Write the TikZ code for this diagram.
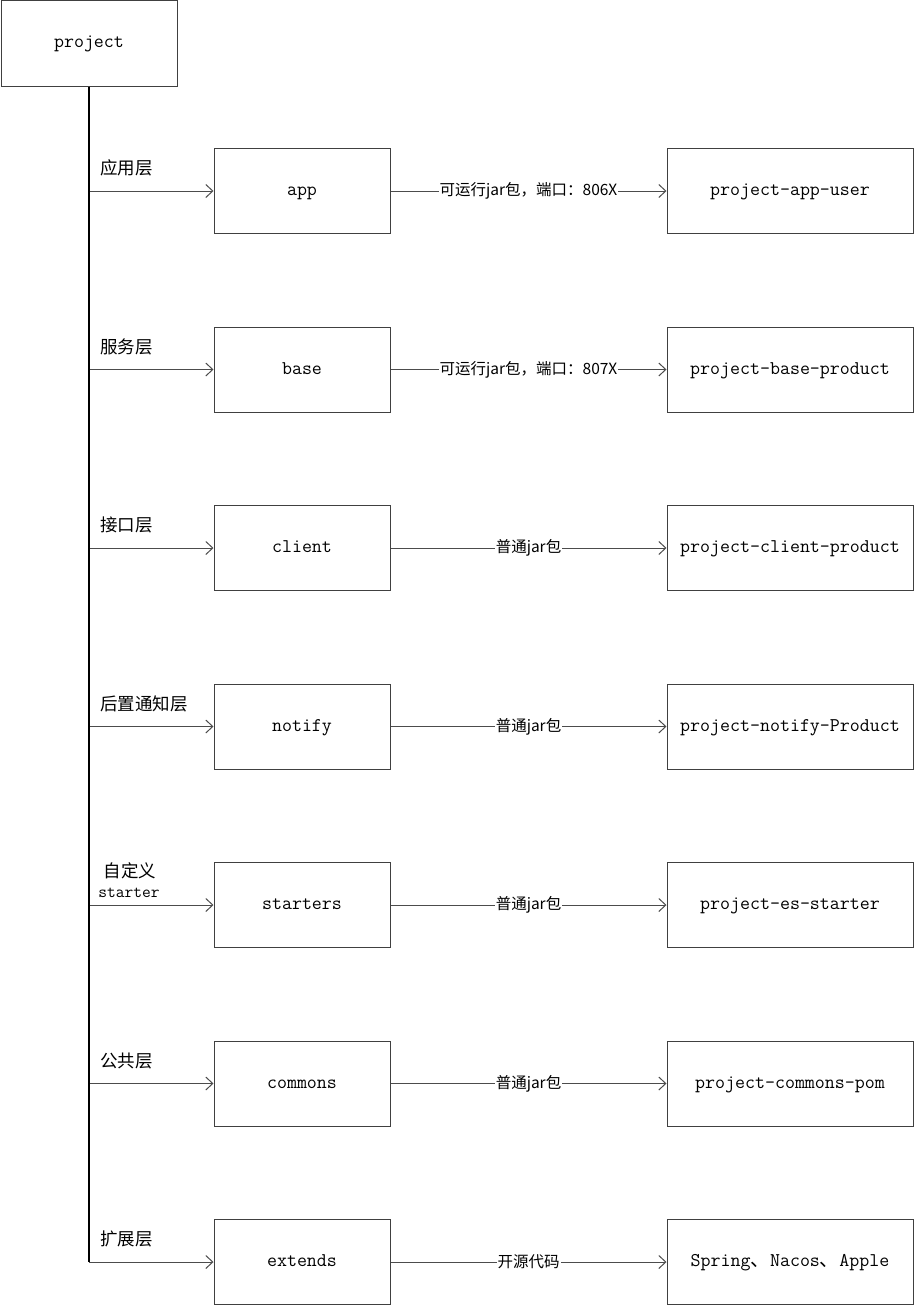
\documentclass[tikz,border=0pt]{standalone}
\usepackage{fontspec}
\newfontfamily\cjk{Noto Sans CJK SC}
\usetikzlibrary{arrows.meta}
\begin{document}
\begin{tikzpicture}[x=1pt,y=-1pt,
  box/.style={draw=black!75,line width=1pt,fill=white,inner sep=0pt,minimum height=85pt,text height=12pt,text depth=3pt,font=\fontsize{19.4}{21}\selectfont\ttfamily},
  lbox/.style={box,minimum width=176pt},
  rbox/.style={box,minimum width=246pt},
  conn/.style={draw=black!70,line width=1pt,-{Straight Barb[length=7pt,width=13pt]}},
  clabel/.style={fill=white,inner sep=1pt,font=\cjk\fontsize{15.5}{17}\selectfont},
  blabel/.style={anchor=west,inner sep=0pt,font=\cjk\fontsize{17.5}{19}\selectfont}
]
\useasboundingbox (0,0) rectangle (914,1306);
\node[box,minimum width=176pt] (project) at (89,43.5) {project};
\foreach \i/\y/\l/\r/\lab/\cl in {
 1/191/app/project-app-user/应用层/{可运行jar包，端口：806X},
 2/369.5/base/project-base-product/服务层/{可运行jar包，端口：807X},
 3/548/client/project-client-product/接口层/普通jar包,
 4/726.5/notify/project-notify-Product/后置通知层/普通jar包,
 5/905/starters/project-es-starter//普通jar包,
 6/1083.5/commons/project-commons-pom/公共层/普通jar包,
 7/1262/extends/{Spring{\cjk 、}Nacos{\cjk 、}Apple}/扩展层/开源代码}{
  \coordinate (t\i) at (89,\y);
  \node[lbox] (l\i) at (302,\y) {\l};
  \node[rbox] (r\i) at (790,\y) {\r};
  \draw[conn] (t\i) -- (l\i.west);
  \draw[conn] (l\i.east) -- node[clabel] (c\i) {\cl} (r\i.west);
  \node[blabel] (b\i) at (100,\y-23) {\lab};
}
\node[font=\cjk\fontsize{17.5}{19}\selectfont,inner sep=0pt] (b5a) at (130,871) {自定义};
\node[font=\fontsize{17}{19}\selectfont\ttfamily,inner sep=0pt] (b5b) at (129,893) {starter};
\draw[line width=1.3pt] (project.south) -- (t7);
\end{tikzpicture}
\end{document}
